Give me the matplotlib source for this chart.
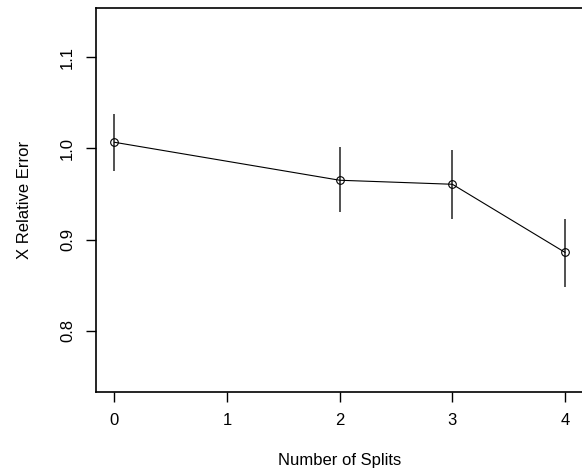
import matplotlib
matplotlib.use("Agg")
import matplotlib.pyplot as plt

plt.rcParams['font.family'] = ['Liberation Sans', 'DejaVu Sans']

splits = [0, 2, 3, 4]
rel_error = [1.0066, 0.965, 0.9606, 0.886]
err_upper = [1.0375, 1.001, 0.998, 0.9226]
err_lower = [0.975, 0.930, 0.923, 0.8485]
xticks = [0, 1, 2, 3, 4]
yticks = [0.8, 0.9, 1.0, 1.1]
ytick_labels = ["0.8", "0.9", "1.0", "1.1"]

fig = plt.figure(figsize=(5.82, 4.70), dpi=100)
ax = fig.add_axes([96/582, 77.7/470, 487/582, 384.3/470])

ax.vlines(splits, err_lower, err_upper, colors='#333333', linewidth=1.2)
ax.plot(splits, rel_error, color='black', linewidth=0.8, marker='o',
        markersize=5.5, markerfacecolor='none', markeredgecolor='black',
        markeredgewidth=0.8)

ax.set_xlim(-0.164, 4.16)
ax.set_ylim(0.7327, 1.1537)
ax.set_xticks(xticks)
ax.set_xticklabels([str(t) for t in xticks])
ax.set_yticks(yticks)
ax.set_yticklabels(ytick_labels, rotation=90, va='center')

ax.tick_params(axis='both', direction='out', length=7, width=1,
               labelsize=12, colors='black')
ax.tick_params(axis='x', pad=8)
ax.tick_params(axis='y', pad=8)
for s in ax.spines.values():
    s.set_linewidth(1.2)
ax.spines['right'].set_visible(False)

ax.set_xlabel("Number of Splits", fontsize=12, labelpad=18)
ax.set_ylabel("X Relative Error", fontsize=12, labelpad=20)

fig.savefig("out.png", dpi=100)
